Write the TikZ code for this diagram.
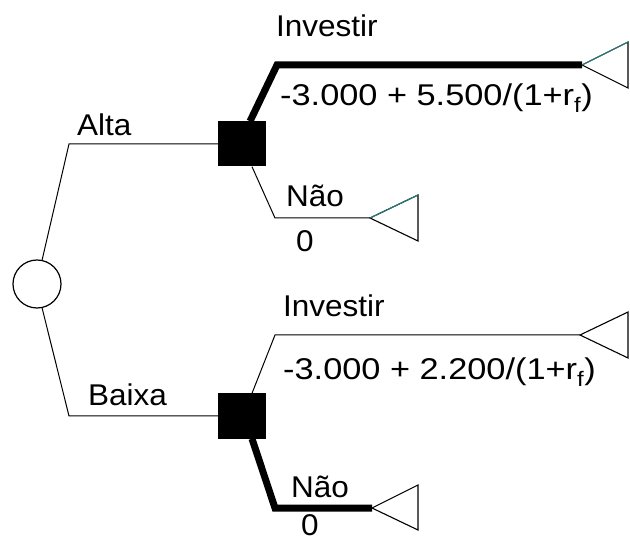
\documentclass[tikz,border=0pt]{standalone}
\usepackage{fontspec}
\setmainfont{Liberation Sans}
\newfontfamily\lblfont[FakeStretch=1.05]{Liberation Sans}
\newcommand{\payoff}[1]{\scalebox{1.09}[1]{#1}}
\begin{document}
\begin{tikzpicture}[x=1pt,y=-1pt,
  lbl/.style={anchor=base west,inner sep=0pt,font=\lblfont\fontsize{30}{36}\selectfont},
  branch/.style={line width=1pt,line join=miter},
  bestbranch/.style={line width=7pt,line join=miter},
  chance/.style={circle,draw,line width=1.2pt,minimum size=48pt,inner sep=0pt,fill=white},
  decision/.style={rectangle,fill=black,minimum width=48pt,minimum height=45pt,inner sep=0pt},
  endtri/.style={line width=1.1pt,line join=miter},
  endtop/.style={line width=1.1pt,draw={rgb,255:red,40;green,125;blue,125}}]
\useasboundingbox (0,0) rectangle (630,540);

% bends and leaf points
\coordinate (ka) at (69,144);
\coordinate (kb) at (69,416);
\coordinate (k1) at (277,65);
\coordinate (k2) at (275,218);
\coordinate (k3) at (275,335);
\coordinate (k4) at (275,508);
\coordinate (e1) at (582,65);
\coordinate (e2) at (370,218);
\coordinate (e3) at (580,335);
\coordinate (e4) at (372,508);

% chance node and decision nodes
\node[chance] (c) at (37,284) {};
\node[decision] (d1) at (242,144) {};
\node[decision] (d2) at (242,416) {};

% branches from the chance node
\draw[branch] (c.78) -- (ka) -- (d1.west);
\draw[branch] (c.-78) -- (kb) -- (d2.west);

% decision branches (optimal ones drawn heavy)
\draw[bestbranch] ([xshift=8pt]d1.north) -- (k1) -- (e1);
\draw[branch] ([xshift=10pt]d1.south) -- (k2) -- (e2);
\draw[branch] ([xshift=10pt]d2.north) -- (k3) -- (e3);
\draw[bestbranch] ([xshift=10pt]d2.south) -- (k4) -- (e4);

% terminal triangles
\draw[endtri] (e1) -- ++(46,23) -- ++(0,-46) -- cycle;
\draw[endtop] (e1) -- ++(46,-23);
\draw[endtri] (e2) -- ++(48,23) -- ++(0,-46) -- cycle;
\draw[endtop] (e2) -- ++(48,-23);
\draw[endtri] (e3) -- ++(48,23) -- ++(0,-46) -- cycle;
\draw[endtri] (e4) -- ++(46,22) -- ++(0,-45) -- cycle;

% labels
\node[lbl] (la) at (77,136) {Alta};
\node[lbl] (lb) at (88,406) {Baixa};
\node[lbl] (i1) at (276,37) {Investir};
\node[lbl] (v1) at (280,106) {\payoff{-3.000 + 5.500/(1+r\textsubscript{f})}};
\node[lbl] (n1) at (286,207) {Não};
\node[lbl] (z1) at (296,252) {0};
\node[lbl] (i2) at (283,317) {Investir};
\node[lbl] (v2) at (283,380) {\payoff{-3.000 + 2.200/(1+r\textsubscript{f})}};
\node[lbl] (n2) at (291,497) {Não};
\node[lbl] (z2) at (301,535) {0};
\end{tikzpicture}
\end{document}
